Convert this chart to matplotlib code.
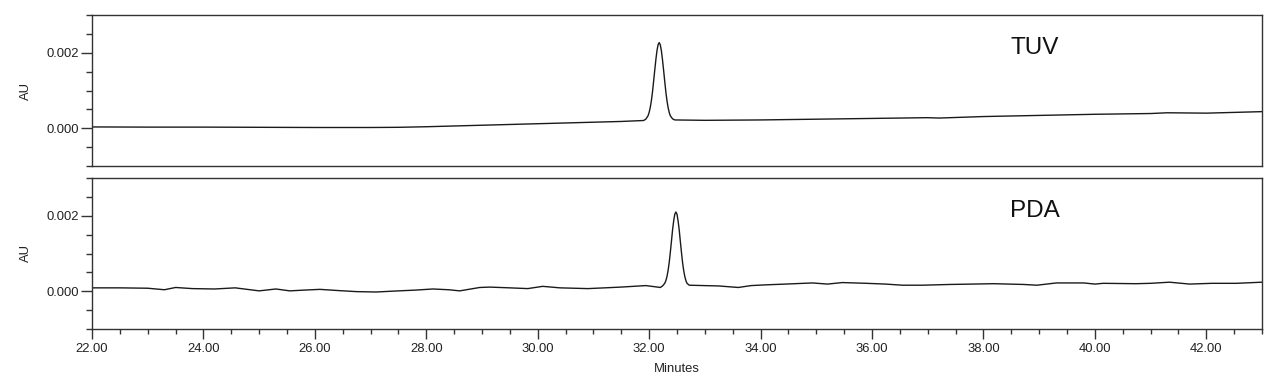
import matplotlib
matplotlib.use("Agg")
import matplotlib.pyplot as plt
from matplotlib.ticker import MultipleLocator, FormatStrFormatter

plt.rcParams['font.family'] = ['Liberation Sans', 'DejaVu Sans']

# TUV trace (minutes, AU)
tuv_t = [22.0, 23.0, 24.0, 25.0, 26.0, 27.0, 27.5, 28.0, 28.5, 29.0, 29.5, 30.0,
         30.5, 31.0, 31.5, 31.9, 31.94, 31.98, 32.00, 32.02, 32.04, 32.06, 32.08,
         32.10, 32.12, 32.14, 32.16, 32.18, 32.20, 32.22, 32.24, 32.26, 32.28,
         32.30, 32.32, 32.34, 32.36, 32.38, 32.42, 32.46, 33.0, 34.0, 35.0, 36.0,
         37.0, 37.2, 38.0, 39.0, 40.0, 41.0, 41.3, 42.0, 43.0]
tuv_au = [0.000035, 0.00003, 0.00003, 0.000025, 0.00002, 0.00002, 0.000025, 0.00004,
          0.00006, 0.00008, 0.00010, 0.00012, 0.00014, 0.00016, 0.00018, 0.000205,
          0.00024, 0.00033, 0.00042, 0.00055, 0.00073, 0.00096, 0.00124,
          0.00153, 0.00181, 0.00205, 0.00221, 0.00227, 0.00221, 0.00205, 0.00181,
          0.00153, 0.00124, 0.00096, 0.00073, 0.00055, 0.00042, 0.00033, 0.00025,
          0.00022, 0.00021, 0.00022, 0.00024, 0.00026, 0.00028, 0.00027, 0.00031,
          0.00034, 0.00037, 0.00039, 0.00041, 0.00040, 0.00044]

# PDA trace (minutes, AU)
pda_t = [22.0, 22.5, 23.0, 23.3, 23.5, 23.8, 24.2, 24.57, 25.0, 25.3, 25.55, 25.8,
         26.09, 26.4, 26.75, 27.1, 27.5, 27.8, 28.12, 28.4, 28.6, 28.96, 29.14, 29.5,
         29.82, 30.09, 30.4, 30.9, 31.2, 31.49, 31.94, 32.1, 32.2,
         32.24, 32.28, 32.30, 32.32, 32.34, 32.36, 32.38, 32.40, 32.42, 32.44, 32.46,
         32.48, 32.50, 32.52, 32.54, 32.56, 32.58, 32.60, 32.62, 32.64, 32.66, 32.68,
         32.72, 33.25, 33.6, 33.83, 34.1, 34.45, 34.93, 35.2, 35.47, 35.9,
         36.24, 36.55, 36.9, 37.4, 37.8, 38.18, 38.72, 38.96, 39.31, 39.8, 40.0,
         40.15, 40.74, 41.0, 41.34, 41.7, 42.1, 42.54, 43.0]
pda_au = [0.00009, 0.00009, 0.00008, 0.00004, 0.00010, 0.00007, 0.00006, 0.00009,
          0.00001, 0.00006, 0.00001, 0.00003, 0.00005, 0.00002, -0.00001, -0.00002,
          0.00001, 0.00003, 0.00006, 0.00004, 0.00001, 0.00010, 0.00011, 0.00009,
          0.00007, 0.00013, 0.00009, 0.00007, 0.00009, 0.00011, 0.00015, 0.00012,
          0.00010,
          0.00014, 0.00021, 0.00028, 0.00039, 0.00055, 0.00076, 0.00103, 0.00132,
          0.00162, 0.00186, 0.00204, 0.00210, 0.00204, 0.00186, 0.00162, 0.00132,
          0.00103, 0.00076, 0.00055, 0.00039, 0.00028, 0.00021,
          0.00016, 0.00014, 0.00010, 0.00015,
          0.00017, 0.00019, 0.00022, 0.00019, 0.00023, 0.00021, 0.00019, 0.00016,
          0.00016, 0.00018, 0.00019, 0.00020, 0.00018, 0.00016, 0.00022, 0.00022,
          0.00019, 0.00021, 0.00020, 0.00021, 0.00024, 0.00019, 0.00021, 0.00021,
          0.00024]

labels = ["TUV", "PDA"]
x_min, x_max = 22.0, 43.0
y_min, y_max = -0.001, 0.003

W, H = 1280, 391
fig = plt.figure(figsize=(W / 100, H / 100), dpi=100)
left = 92 / W
width = (1262 - 92) / W
ax_top = fig.add_axes([left, 1 - 166 / H, width, 151 / H])
ax_bot = fig.add_axes([left, 1 - 329 / H, width, 151 / H])

spine_col = '#333333'
for ax, t, v, lab in [(ax_top, tuv_t, tuv_au, labels[0]), (ax_bot, pda_t, pda_au, labels[1])]:
    ax.plot(t, v, color='#1a1a1a', lw=1.0)
    ax.set_xlim(x_min, x_max)
    ax.set_ylim(y_min, y_max)
    for s in ax.spines.values():
        s.set_color(spine_col)
        s.set_linewidth(1.0)
    ax.yaxis.set_major_locator(MultipleLocator(0.002))
    ax.yaxis.set_minor_locator(MultipleLocator(0.0005))
    ax.yaxis.set_major_formatter(FormatStrFormatter('%.3f'))
    ax.tick_params(axis='y', which='major', length=8, width=1, color=spine_col,
                   labelsize=9.4, pad=1.5, labelcolor='#222222')
    ax.tick_params(axis='y', which='minor', length=4.3, width=1, color=spine_col)
    ax.set_ylabel('AU', fontsize=9.4, color='#222222', labelpad=10)
    ax.text(0.785, 0.78, lab, transform=ax.transAxes, fontsize=17.5,
            ha='left', va='center', color='#111111')

ax_top.tick_params(axis='x', which='both', bottom=False, labelbottom=False)
ax_bot.xaxis.set_major_locator(MultipleLocator(2))
ax_bot.xaxis.set_minor_locator(MultipleLocator(0.5))
ax_bot.xaxis.set_major_formatter(FormatStrFormatter('%.2f'))
ax_bot.tick_params(axis='x', which='major', length=7.2, width=1, color=spine_col,
                   labelsize=9.4, pad=3, labelcolor='#222222')
ax_bot.tick_params(axis='x', which='minor', length=3.6, width=1, color=spine_col)
ax_bot.set_xlabel('Minutes', fontsize=9.4, color='#222222', labelpad=6)

fig.savefig('out.png', dpi=100)
